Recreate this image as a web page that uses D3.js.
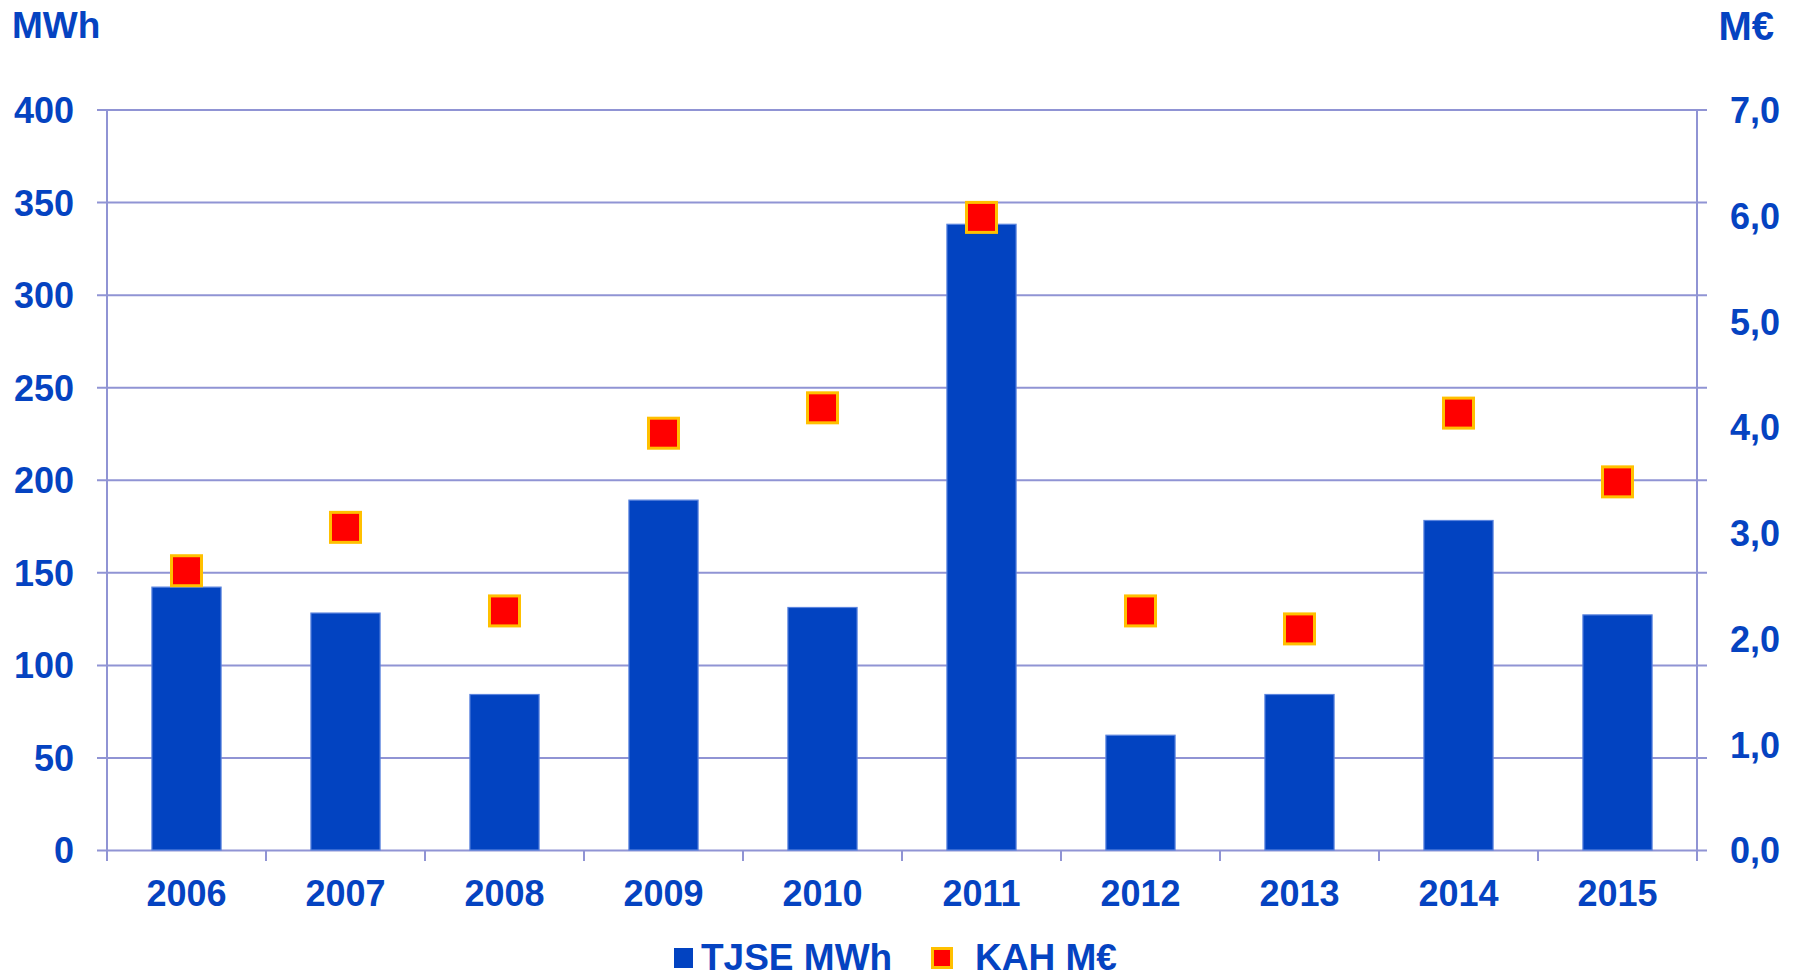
<!DOCTYPE html>
<html lang="en">
<head>
<meta charset="UTF-8">
<title>TJSE MWh / KAH M€</title>
<script src="https://cdnjs.cloudflare.com/ajax/libs/d3/7.8.5/d3.min.js"></script>
<style>
  body { margin: 0; background: #fff; }
  svg text { font-family: "Liberation Sans", Arial, sans-serif; font-weight: bold; fill: #0543C1; }
  .grid line { stroke: #9094D4; stroke-width: 2; }
  .grid path { display: none; }
</style>
</head>
<body>
<script>
// data
var years = ['2006', '2007', '2008', '2009', '2010', '2011', '2012', '2013', '2014', '2015'];
var tjseMWh = [142, 128, 84, 189, 131, 338, 62, 84, 178, 127];
var kahMEur = [2.64, 3.05, 2.26, 3.94, 4.18, 5.98, 2.26, 2.09, 4.13, 3.48];
var leftTicks = [0, 50, 100, 150, 200, 250, 300, 350, 400];
var rightTicks = [0, 1, 2, 3, 4, 5, 6, 7];

var W = 1796, H = 973;
var m = { left: 107, right: 1697, top: 109.5, bottom: 850 };
var axisCol = '#9094D4';

var svg = d3.select('body').append('svg').attr('width', W).attr('height', H);

var x = d3.scaleBand().domain(years).range([m.left, m.right]).padding(0);
var yL = d3.scaleLinear().domain([0, 400]).range([m.bottom, m.top]);
var yR = d3.scaleLinear().domain([0, 7]).range([m.bottom, m.top]);

// gridlines (extend 10px past both axes)
svg.append('g')
   .attr('class', 'grid')
   .attr('transform', 'translate(' + (m.left - 10) + ',0)')
   .call(d3.axisRight(yL).tickValues(leftTicks).tickSize(m.right - m.left + 20).tickFormat(''));

// vertical axis lines
[m.left, m.right].forEach(function(px) {
  svg.append('line')
     .attr('x1', px).attr('x2', px)
     .attr('y1', m.top).attr('y2', m.bottom + 11)
     .attr('stroke', axisCol).attr('stroke-width', 2);
});

// category boundary ticks
var bounds = years.map(function(d) { return x(d); }).concat([m.right]);
svg.selectAll('.xtick').data(bounds).enter().append('line')
   .attr('x1', function(d) { return d; }).attr('x2', function(d) { return d; })
   .attr('y1', m.bottom).attr('y2', m.bottom + 11)
   .attr('stroke', axisCol).attr('stroke-width', 2);

// left labels
var gl = svg.append('g').attr('transform', 'translate(' + (m.left - 33) + ',0)')
   .call(d3.axisLeft(yL).tickValues(leftTicks).tickSize(0).tickPadding(0));
gl.select('.domain').remove();
gl.selectAll('text').style('font-size', '36px').attr('dy', '0.36em');

// right labels
var gr = svg.append('g').attr('transform', 'translate(' + (m.right + 33) + ',0)')
   .call(d3.axisRight(yR).tickValues(rightTicks).tickSize(0).tickPadding(0)
     .tickFormat(function(d) { return d3.format('.1f')(d).replace('.', ','); }));
gr.select('.domain').remove();
gr.selectAll('text').style('font-size', '36px').attr('dy', '0.36em');

// x labels
var gx = svg.append('g').attr('transform', 'translate(0,' + m.bottom + ')')
   .call(d3.axisBottom(x).tickSize(0).tickPadding(0));
gx.select('.domain').remove();
gx.selectAll('text').style('font-size', '36px').attr('dy', '0').attr('y', 56);

// bars
var bw = x.bandwidth() * 0.435;
svg.selectAll('.bar').data(years).enter().append('rect')
   .attr('x', function(d) { return x(d) + (x.bandwidth() - bw) / 2; })
   .attr('y', function(d, i) { return yL(tjseMWh[i]); })
   .attr('width', bw)
   .attr('height', function(d, i) { return m.bottom - yL(tjseMWh[i]); })
   .attr('fill', '#0243C1')
   .attr('stroke', '#5B84DE').attr('stroke-width', 1.2);

// markers
var ms = 30;
svg.selectAll('.mk').data(years).enter().append('rect')
   .attr('x', function(d) { return x(d) + x.bandwidth() / 2 - ms / 2; })
   .attr('y', function(d, i) { return yR(kahMEur[i]) - ms / 2; })
   .attr('width', ms).attr('height', ms)
   .attr('fill', '#FF0000')
   .attr('stroke', '#FFC000').attr('stroke-width', 3);

// unit titles
svg.append('text').attr('x', 12).attr('y', 38).style('font-size', '37px').text('MWh');
svg.append('text').attr('x', 1774).attr('y', 40).attr('text-anchor', 'end').style('font-size', '40px').text('M€');

// legend
svg.append('rect').attr('x', 674).attr('y', 948).attr('width', 19).attr('height', 20).attr('fill', '#0243C1');
svg.append('text').attr('x', 701).attr('y', 970).style('font-size', '37px').text('TJSE MWh');
svg.append('rect').attr('x', 932.5).attr('y', 948.5).attr('width', 19).attr('height', 19)
   .attr('fill', '#FF0000').attr('stroke', '#FFC000').attr('stroke-width', 3);
svg.append('text').attr('x', 975).attr('y', 970).style('font-size', '37px').text('KAH M€');
</script>
</body>
</html>
